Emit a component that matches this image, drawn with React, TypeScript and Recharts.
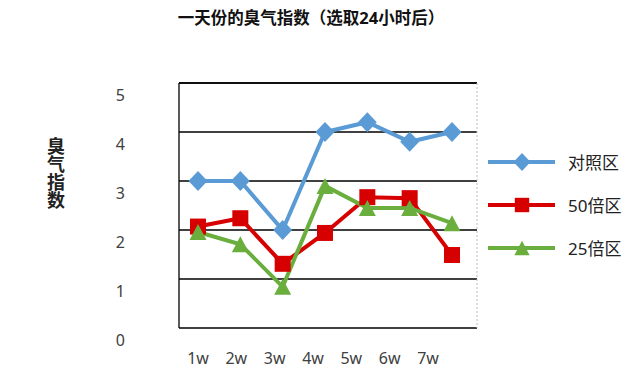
import React from 'react';
import { LineChart, Line, XAxis, YAxis, CartesianGrid, Legend, ReferenceLine } from 'recharts';

const weeks = ['1w', '2w', '3w', '4w', '5w', '6w', '7w'];
const controlValues = [3.0, 3.0, 2.0, 4.0, 4.2, 3.8, 4.0];
const dilution50Values = [2.07, 2.24, 1.31, 1.94, 2.67, 2.65, 1.49];
const dilution25Values = [1.96, 1.71, 0.84, 2.9, 2.45, 2.45, 2.14];
const yTicks = [0, 1, 2, 3, 4, 5];

const seriesNames = ['对照区', '50倍区', '25倍区'];
const seriesKeys = ['control', 'd50', 'd25'];
const seriesColors = ['#5B9BD5', '#D60000', '#6AAE3E'];
const seriesShapes = ['diamond', 'square', 'triangle'];

const data = weeks.map((w, i) => ({
  week: w,
  control: controlValues[i],
  d50: dilution50Values[i],
  d25: dilution25Values[i],
}));

const FONT = "'Noto Sans', 'Noto Sans CJK SC', sans-serif";

function Marker({ shape, cx, cy, color, size = 1 }: { shape: string; cx: number; cy: number; color: string; size?: number }) {
  if (shape === 'diamond') {
    const w = 9.5 * size, h = 10 * size;
    return <polygon points={`${cx},${cy - h} ${cx + w},${cy} ${cx},${cy + h} ${cx - w},${cy}`} fill={color} />;
  }
  if (shape === 'square') {
    const s = 8 * size;
    return <rect x={cx - s} y={cy - s} width={s * 2} height={s * 2} fill={color} />;
  }
  const w = 8.5 * size, h = 8 * size;
  return <polygon points={`${cx},${cy - h} ${cx + w},${cy + h} ${cx - w},${cy + h}`} fill={color} />;
}

const renderDot = (shape: string, color: string) => (p: any) => (
  <Marker key={`${shape}-${p.index}`} shape={shape} cx={p.cx} cy={p.cy} color={color} />
);

const YTick = (props: any) => (
  <text x={props.x} y={props.y + 12} dy="0.355em" textAnchor="end" fontSize={16} fill="#404040" fontFamily={FONT}>
    {props.payload.value}
  </text>
);

const LegendContent = () => (
  <div>
    {seriesNames.map((name, i) => (
      <div key={name} style={{ display: 'flex', alignItems: 'center', height: 43 }}>
        <svg width={72} height={24}>
          <line x1={0} y1={12} x2={67} y2={12} stroke={seriesColors[i]} strokeWidth={4} />
          <Marker shape={seriesShapes[i]} cx={34} cy={12} color={seriesColors[i]} size={0.9} />
        </svg>
        <span style={{ marginLeft: 8, fontSize: 17, color: '#222', fontFamily: FONT }}>{name}</span>
      </div>
    ))}
  </div>
);

export default function App() {
  return (
    <div style={{ position: 'absolute', left: 0, top: 0, width: 640, height: 382, background: '#fff' }}>
      <div
        style={{
          position: 'absolute', left: 160, top: 8, width: 302, textAlign: 'center',
          fontSize: 16.5, fontWeight: 700, fontFamily: FONT, color: '#111', lineHeight: '20px',
        }}
      >
        一天份的臭气指数（选取24小时后）
      </div>
      <div
        style={{
          position: 'absolute', left: 45, top: 137, writingMode: 'vertical-rl',
          fontSize: 18, fontWeight: 700, fontFamily: FONT, color: '#222', lineHeight: '20px',
        }}
      >
        臭气指数
      </div>
      <LineChart width={640} height={382} data={data} margin={{ top: 83, right: 162, bottom: 24, left: 119 }}>
        <CartesianGrid vertical={false} stroke="#000" strokeWidth={1.3} />
        <XAxis
          dataKey="week"
          xAxisId={0}
          height={0}
          tick={false}
          tickLine={false}
          axisLine={{ stroke: '#000', strokeWidth: 1.3 }}
          padding={{ left: 19, right: 25 }}
        />
        <XAxis
          dataKey="week"
          xAxisId="labels"
          height={30}
          tickLine={false}
          axisLine={false}
          tickMargin={19}
          padding={{ left: 19, right: 49 }}
          tick={{ fontSize: 16, fill: '#404040', fontFamily: FONT }}
        />
        <YAxis
          domain={[0, 5]}
          ticks={yTicks}
          width={60}
          tickLine={false}
          axisLine={{ stroke: '#000', strokeWidth: 1.3 }}
          tickMargin={48}
          tick={<YTick />}
        />
        <YAxis
          yAxisId="right"
          orientation="right"
          domain={[0, 5]}
          width={1}
          tick={false}
          tickLine={false}
          axisLine={{ stroke: '#bbb', strokeDasharray: '2 2' }}
        />
        <ReferenceLine y={5} stroke="#000" strokeWidth={1.3} />
        <Legend
          layout="horizontal"
          verticalAlign="middle"
          content={<LegendContent />}
          wrapperStyle={{ left: 488, top: 140, width: 150 }}
        />
        {seriesKeys.map((key, i) => (
          <Line
            key={key}
            dataKey={key}
            name={seriesNames[i]}
            stroke={seriesColors[i]}
            strokeWidth={4}
            dot={renderDot(seriesShapes[i], seriesColors[i])}
            activeDot={false}
            isAnimationActive={false}
          />
        ))}
      </LineChart>
    </div>
  );
}
